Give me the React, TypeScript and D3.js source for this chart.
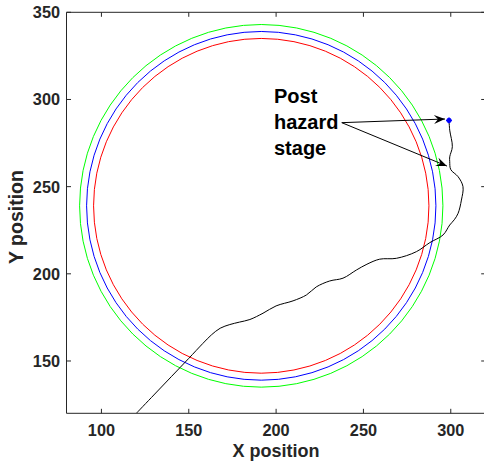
import React from "react";
import * as d3 from "d3";

const xTicks = [100, 150, 200, 250, 300];
const yTicks = [150, 200, 250, 300, 350];
const xDomain = [80, 320];
const yDomain = [120, 350];

const circleCenter = { x: 191.5, y: 239 };
const circleRadii = [104, 100, 96];
const circleColors = ["#00ff00", "#0000ff", "#ff0000"];

const trajX = [120, 130, 140, 150, 158, 163, 168, 173.5, 179, 185, 192.5, 200, 209.7, 217.4, 223, 230.7, 238.3, 246, 252, 259.3, 268.9, 280.3, 288, 295.6, 299.4, 302, 304.2, 306.1, 307, 304.2, 300, 299.4, 299.4, 300.9, 299.4, 299];
const trajY = [120, 130.5, 141, 151.5, 160, 165, 168.8, 170.9, 172.3, 173.8, 177.4, 181.6, 184.5, 187.9, 192.5, 195.9, 197.5, 202.2, 205.5, 208.4, 208.9, 212.7, 217.9, 222.3, 228, 231, 234.7, 242.3, 250, 255.7, 259.8, 264.3, 267.1, 272.9, 282.4, 288];

const annotationLines = ["Post", "hazard", "stage"];
const annotationAnchor = { x: 198.8, y: 297.8 };
const arrowFrom = { x: 237.6, y: 286.7 };
const arrowTips = [
  { x: 296.7, y: 288.8 },
  { x: 297.8, y: 261.8 },
];

const FONT = "'Liberation Sans', Arial, Helvetica, sans-serif";
const AX = "#262626";

export default function App() {
  const W = 484, H = 464;
  const L = 66.5, R = 485.7, T = 12.3, B = 413.3;
  const x = d3.scaleLinear().domain(xDomain).range([L, R]);
  const y = d3.scaleLinear().domain(yDomain).range([B, T]);

  const pts: [number, number][] = trajX.map((v, i) => [v, trajY[i]]);
  const line = d3
    .line<[number, number]>()
    .x((d) => x(d[0]))
    .y((d) => y(d[1]))
    .curve(d3.curveCatmullRom.alpha(0.5));

  const last = pts[pts.length - 1];
  const lineH = [0, 1, 2];

  const arrowHead = (fx: number, fy: number, tx: number, ty: number) => {
    const ang = Math.atan2(ty - fy, tx - fx);
    const len = 11, half = 4.5, notch = 7;
    const ca = Math.cos(ang), sa = Math.sin(ang);
    const bx = tx - len * ca, by = ty - len * sa;
    const nx = tx - notch * ca, ny = ty - notch * sa;
    const p1 = [bx - half * -sa, by - half * ca];
    const p2 = [bx + half * -sa, by + half * ca];
    return `M${tx},${ty}L${p1[0]},${p1[1]}L${nx},${ny}L${p2[0]},${p2[1]}Z`;
  };

  return (
    <svg width={W} height={H} style={{ position: "absolute", left: 0, top: 0, background: "#fff" }}>
      <defs>
        <clipPath id="plotclip">
          <rect x={L} y={T} width={R - L} height={B - T} />
        </clipPath>
      </defs>
      <rect x={0} y={0} width={W} height={H} fill="#fff" />
      <g clipPath="url(#plotclip)">
        {circleRadii.map((r, i) => (
          <ellipse
            key={i}
            cx={x(circleCenter.x)}
            cy={y(circleCenter.y)}
            rx={x(circleCenter.x + r) - x(circleCenter.x)}
            ry={y(circleCenter.y) - y(circleCenter.y + r)}
            fill="none"
            stroke={circleColors[i]}
            strokeWidth={1}
          />
        ))}
        <path d={line(pts) || ""} fill="none" stroke="#000" strokeWidth={1} />
        <g stroke="#0000ff" strokeWidth={1}>
          <circle cx={x(last[0])} cy={y(last[1])} r={2.2} fill="#0000ff" />
          <line x1={x(last[0]) - 3} x2={x(last[0]) + 3} y1={y(last[1])} y2={y(last[1])} />
          <line x1={x(last[0])} x2={x(last[0])} y1={y(last[1]) - 3} y2={y(last[1]) + 3} />
        </g>
      </g>

      {/* axes box */}
      <g stroke={AX} strokeWidth={1} fill="none">
        <line x1={L} x2={R} y1={B} y2={B} />
        <line x1={L} x2={R} y1={T} y2={T} />
        <line x1={L} x2={L} y1={T} y2={B} />
        <line x1={R} x2={R} y1={T} y2={B} />
        {xTicks.map((t) => (
          <g key={"xt" + t}>
            <line x1={x(t)} x2={x(t)} y1={B} y2={B - 4.5} />
            <line x1={x(t)} x2={x(t)} y1={T} y2={T + 4.5} />
          </g>
        ))}
        {yTicks.map((t) => (
          <g key={"yt" + t}>
            <line x1={L} x2={L + 4.5} y1={y(t)} y2={y(t)} />
            <line x1={R} x2={R - 4.5} y1={y(t)} y2={y(t)} />
          </g>
        ))}
      </g>
      <g fill={AX} fontFamily={FONT} fontWeight="bold" fontSize={16.3}>
        {xTicks.map((t) => (
          <text key={"xl" + t} x={x(t)} y={436} textAnchor="middle">
            {t}
          </text>
        ))}
        {yTicks.map((t) => (
          <text key={"yl" + t} x={L - 6.5} y={y(t)} textAnchor="end" dominantBaseline="central">
            {t}
          </text>
        ))}
      </g>
      <text x={(L + R) / 2} y={456.5} textAnchor="middle" fontFamily={FONT} fontWeight="bold" fontSize={18} fill={AX}>
        X position
      </text>
      <text
        transform={`translate(22.5,217) rotate(-90)`}
        textAnchor="middle"
        fontFamily={FONT}
        fontWeight="bold"
        fontSize={19.5}
        fill={AX}
      >
        Y position
      </text>

      {/* annotation */}
      <g fontFamily={FONT} fontWeight="bold" fontSize={20} fill="#000">
        {annotationLines.map((s, i) => (
          <text key={s} x={x(annotationAnchor.x)} y={y(annotationAnchor.y) + lineH[i] * 26}>
            {s}
          </text>
        ))}
      </g>
      {arrowTips.map((tp, i) => {
        const fx = x(arrowFrom.x), fy = y(arrowFrom.y);
        const tx = x(tp.x), ty = y(tp.y);
        return (
          <g key={i}>
            <line x1={fx} y1={fy} x2={tx} y2={ty} stroke="#000" strokeWidth={1} />
            <path d={arrowHead(fx, fy, tx, ty)} fill="#000" />
          </g>
        );
      })}
    </svg>
  );
}
